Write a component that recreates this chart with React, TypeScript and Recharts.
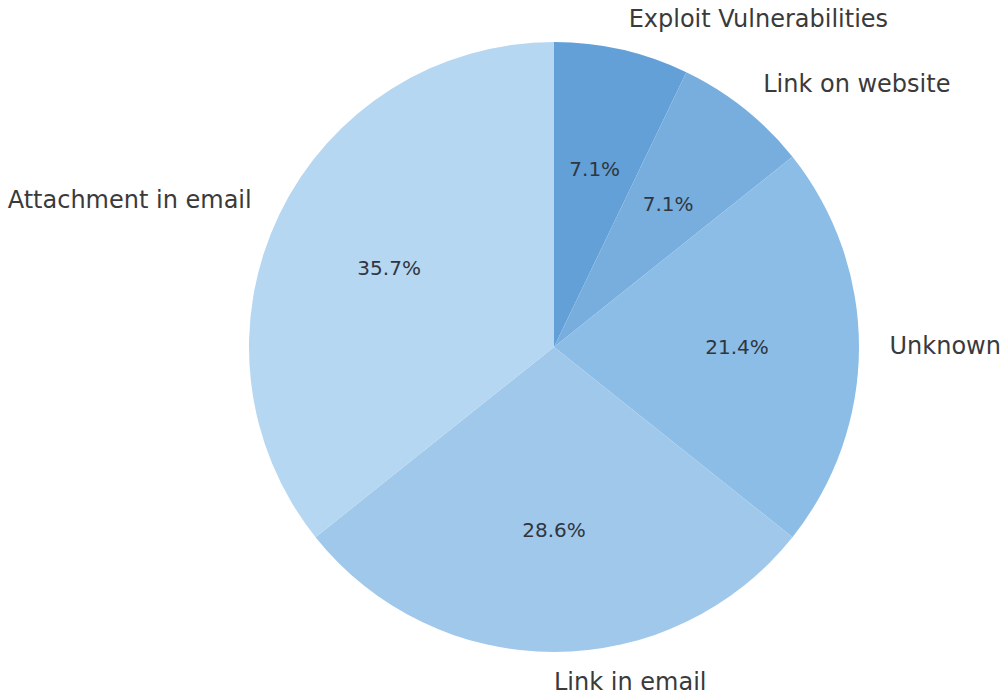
import React from 'react';
import { PieChart, Pie, Cell } from 'recharts';

const labels = ['Exploit Vulnerabilities', 'Link on website', 'Unknown', 'Link in email', 'Attachment in email'];
const counts = [1, 1, 3, 4, 5];
const colors = ['#62a0d7', '#77aede', '#8bbde6', '#a0c8eb', '#b6d7f1'];

const data = labels.map((name, i) => ({ name, value: counts[i] }));

const RADIAN = Math.PI / 180;

// matplotlib-like labels: name at 1.1r, percentage at 0.6r
const renderLabel = (props: any) => {
  const { cx, cy, midAngle, outerRadius, percent, name } = props;
  const c = Math.cos(-midAngle * RADIAN);
  const s = Math.sin(-midAngle * RADIAN);
  const lx = cx + outerRadius * 1.1 * c;
  const ly = cy + outerRadius * 1.1 * s;
  const px = cx + outerRadius * 0.6 * c;
  const py = cy + outerRadius * 0.6 * s;
  return (
    <g>
      <text
        x={lx}
        y={ly - 1}
        textAnchor={c > -1e-6 ? 'start' : 'end'}
        dominantBaseline="central"
        fill="#3a3a3a"
        fontSize={24}
        fontFamily="DejaVu Sans"
      >
        {name}
      </text>
      <text
        x={px}
        y={py}
        textAnchor="middle"
        dominantBaseline="central"
        fill="#2f3640"
        fontSize={20}
        fontFamily="DejaVu Sans"
      >
        {`${(percent * 100).toFixed(1)}%`}
      </text>
    </g>
  );
};

const App: React.FC = () => {
  return (
    <div style={{ position: 'absolute', left: 0, top: 0, width: 1005, height: 697, background: '#fff' }}>
      <PieChart width={1005} height={697} margin={{ top: 0, right: 0, bottom: 0, left: 0 }}>
        <Pie
          data={data}
          dataKey="value"
          nameKey="name"
          cx={554}
          cy={347}
          outerRadius={305}
          startAngle={90}
          endAngle={-270}
          stroke="none"
          labelLine={false}
          label={renderLabel}
          isAnimationActive={false}
        >
          {data.map((d, i) => (
            <Cell key={d.name} fill={colors[i]} />
          ))}
        </Pie>
      </PieChart>
    </div>
  );
};

export default App;
